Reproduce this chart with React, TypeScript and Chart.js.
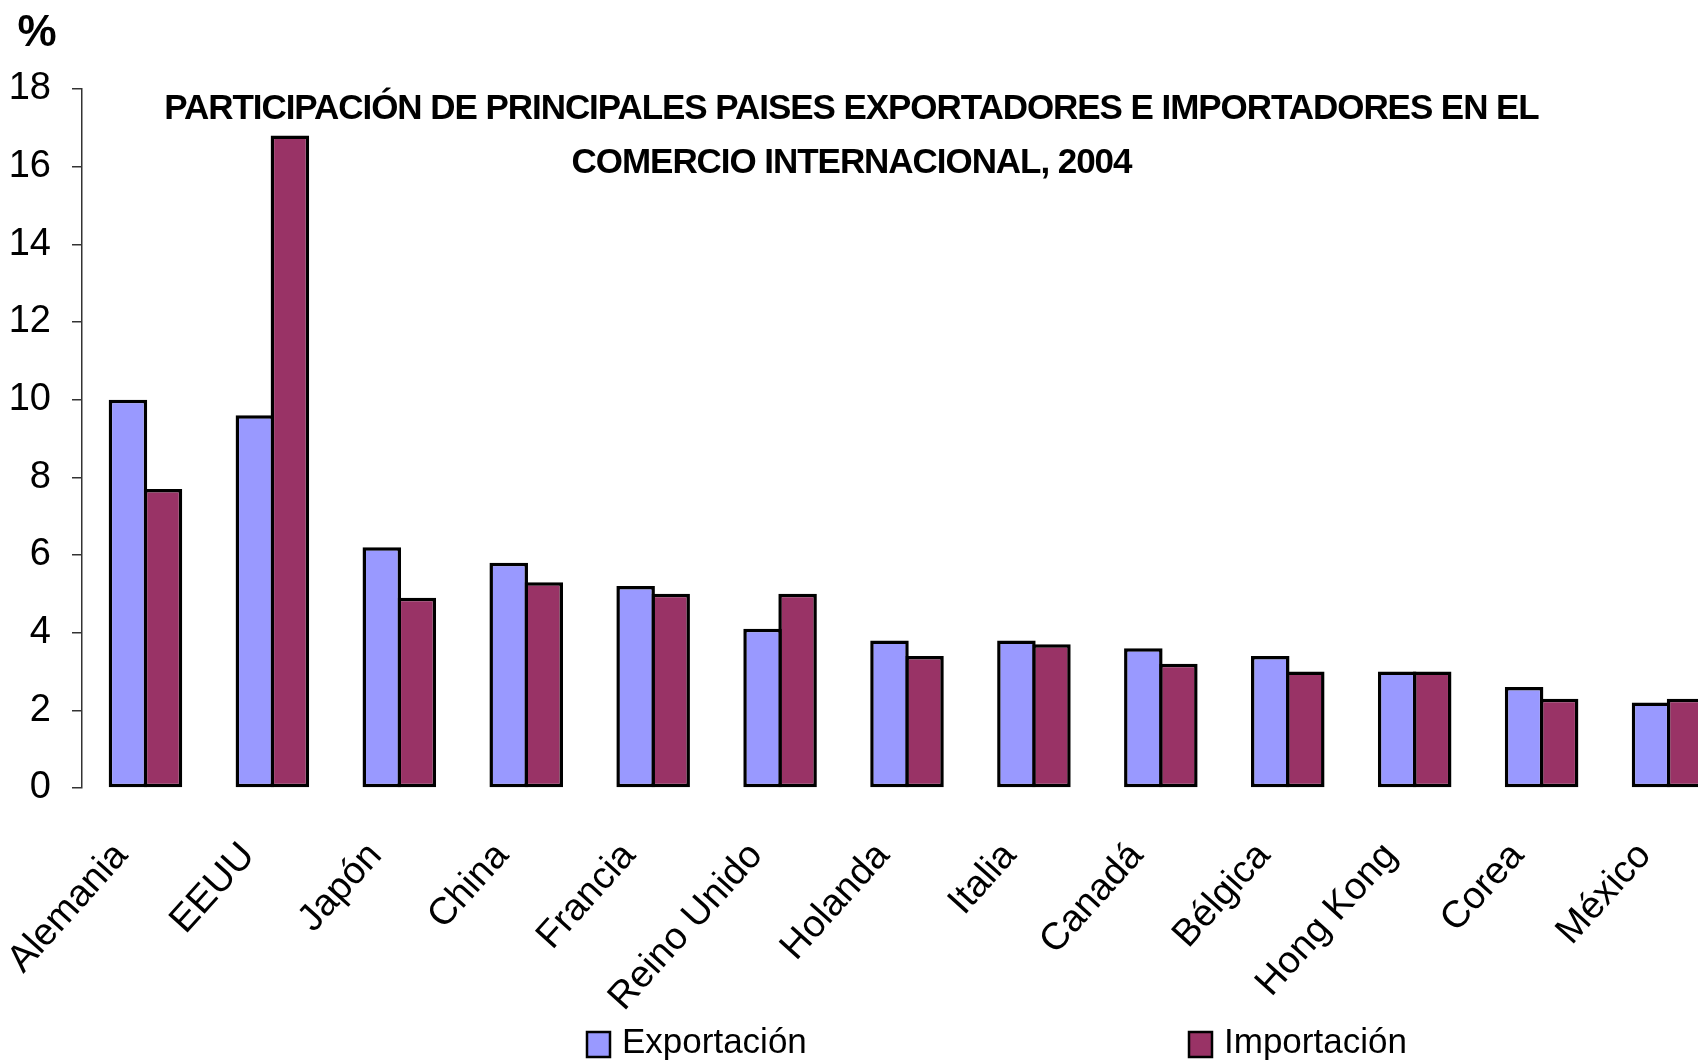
import React, { useEffect, useRef } from "react";
import { Chart, registerables } from "chart.js";

Chart.register(...registerables);

const FONT = "'Liberation Sans', Arial, sans-serif";

const categories = [
  "Alemania", "EEUU", "Japón", "China", "Francia", "Reino Unido", "Holanda",
  "Italia", "Canadá", "Bélgica", "Hong Kong", "Corea", "México",
];
const exportacion = [10.0, 9.6, 6.2, 5.8, 5.2, 4.1, 3.8, 3.8, 3.6, 3.4, 3.0, 2.6, 2.2];
const importacion = [7.7, 16.8, 4.9, 5.3, 5.0, 5.0, 3.4, 3.7, 3.2, 3.0, 3.0, 2.3, 2.3];
const seriesNames = ["Exportación", "Importación"];
const seriesColors = ["#9999FF", "#993366"];
const titleLines = [
  "PARTICIPACIÓN DE PRINCIPALES PAISES EXPORTADORES E IMPORTADORES EN EL",
  "COMERCIO INTERNACIONAL, 2004",
];
const unitLabel = "%";
const yMin = 0;
const yMax = 18;
const yStep = 2;

const overlayPlugin = {
  id: "overlay",
  afterDraw(chart: any) {
    const ctx = chart.ctx as CanvasRenderingContext2D;
    ctx.save();
    ctx.fillStyle = "#000";
    ctx.textBaseline = "alphabetic";
    // title
    ctx.font = `bold 35px ${FONT}`;
    ctx.textAlign = "center";
    try { (ctx as any).letterSpacing = "-1.05px"; } catch (e) {}
    ctx.fillText(titleLines[0], 851.5, 119);
    ctx.fillText(titleLines[1], 851.5, 172.5);
    try { (ctx as any).letterSpacing = "0px"; } catch (e) {}
    // unit
    ctx.font = `bold 44px ${FONT}`;
    ctx.fillText(unitLabel, 37, 46);
    // legend
    const boxX = [587, 1189];
    chart.data.datasets.forEach((ds: any, i: number) => {
      const bx = boxX[i];
      ctx.fillStyle = ds.backgroundColor;
      ctx.fillRect(bx, 1032, 23, 25);
      ctx.lineWidth = 2.5;
      ctx.strokeStyle = "#000";
      ctx.strokeRect(bx, 1032, 23, 25);
      ctx.fillStyle = "#000";
      ctx.font = `35px ${FONT}`;
      ctx.textAlign = "left";
      ctx.fillText(ds.label, bx + 35, 1053);
    });
    ctx.restore();
  },
};

export default function App() {
  const ref = useRef<HTMLCanvasElement | null>(null);

  useEffect(() => {
    document.body.style.margin = "0";
    const canvas = ref.current;
    if (!canvas) return;
    const common = {
      borderColor: "#000",
      borderWidth: 3.5,
      borderSkipped: false,
      categoryPercentage: 70.1 / 127,
      barPercentage: 38.55 / 35.05,
    };
    const chart = new Chart(canvas, {
      type: "bar",
      data: {
        labels: categories,
        datasets: [
          { label: seriesNames[0], data: exportacion, backgroundColor: seriesColors[0], ...common },
          { label: seriesNames[1], data: importacion, backgroundColor: seriesColors[1], ...common },
        ],
      },
      options: {
        responsive: false,
        animation: false,
        devicePixelRatio: 1,
        layout: { padding: { top: 89, left: 0, right: 13, bottom: 0 } },
        plugins: {
          legend: { display: false },
          title: { display: false },
          tooltip: { enabled: false },
        },
        scales: {
          x: {
            offset: true,
            grid: { display: false },
            border: { display: false },
            ticks: {
              autoSkip: false,
              maxRotation: 48,
              minRotation: 48,
              color: "#000",
              padding: 38,
              labelOffset: -24,
              font: { family: FONT, size: 38 },
            },
            afterFit(scale: any) {
              scale.height = 274;
              scale.paddingLeft = 0;
              scale.paddingRight = 0;
            },
          },
          y: {
            min: yMin,
            max: yMax,
            grid: {
              display: true,
              drawOnChartArea: false,
              drawTicks: true,
              tickLength: 10,
              color: "#333",
              lineWidth: 1.5,
            },
            border: { display: true, color: "#333", width: 1.5 },
            ticks: {
              stepSize: yStep,
              color: "#000",
              padding: 21,
              font: { family: FONT, size: 38 },
            },
            afterFit(scale: any) {
              scale.width = 82;
            },
          },
        },
      },
      plugins: [overlayPlugin],
    } as any);
    return () => chart.destroy();
  }, []);

  return (
    <div style={{ width: 1698, height: 1062, overflow: "hidden", position: "relative", background: "#fff" }}>
      <canvas ref={ref} width={1745} height={1062} style={{ position: "absolute", left: 0, top: 0 }} />
    </div>
  );
}
